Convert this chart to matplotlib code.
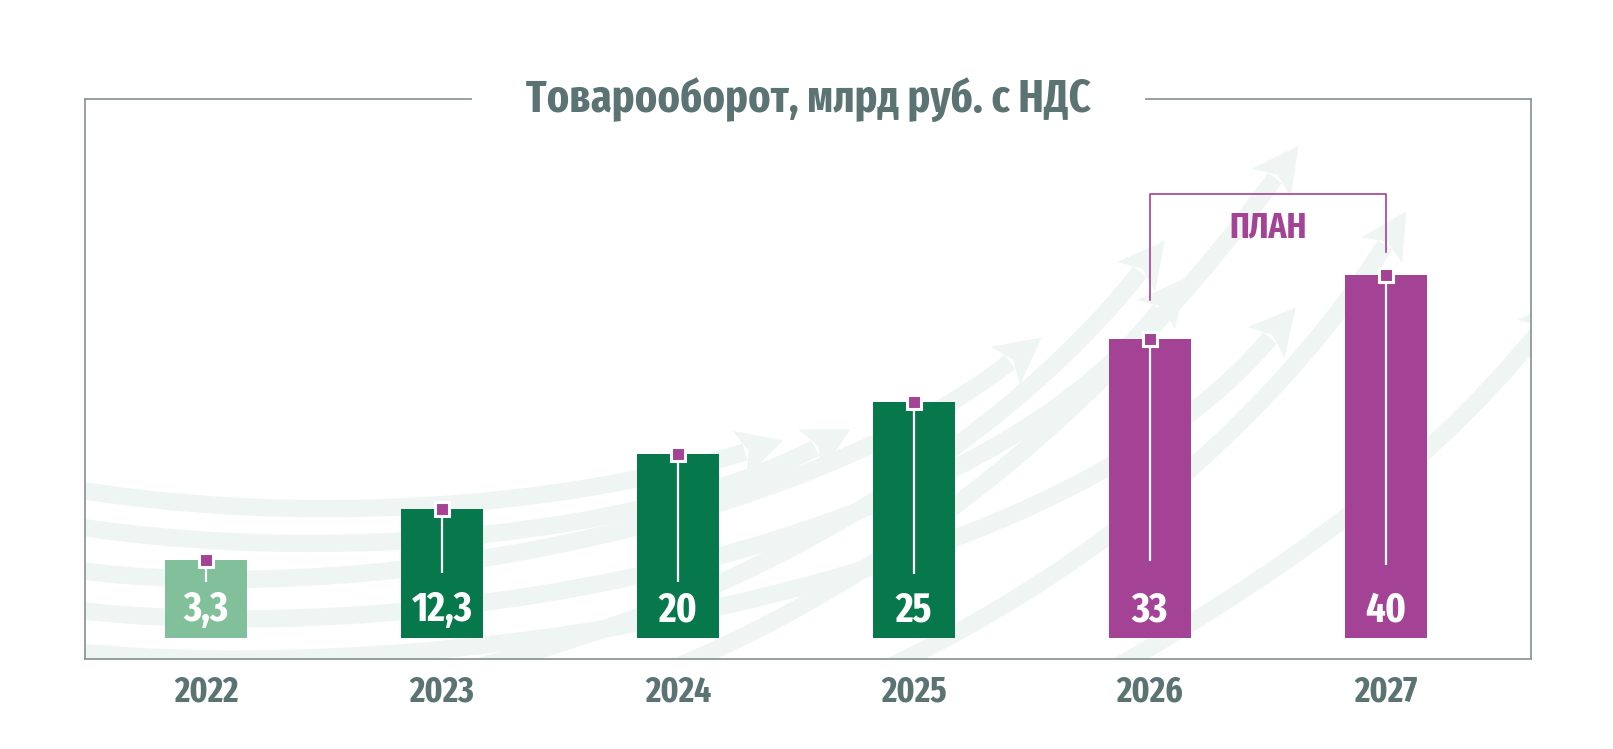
import matplotlib
matplotlib.use('Agg')
import matplotlib.pyplot as plt
from matplotlib.path import Path
from matplotlib.patches import PathPatch, Polygon, Rectangle
import numpy as np

# --- data ---
years = ['2022', '2023', '2024', '2025', '2026', '2027']
value_labels = ['3,3', '12,3', '20', '25', '33', '40']
# bar heights as drawn (the chart is not to scale)
bar_heights = [77.5, 128.5, 183.5, 235.5, 298.5, 362.5]
stem_ends = [77, 86, 77, 85, 98, 94]
bar_colors = ['#82c09c', '#07784b', '#07784b', '#07784b', '#a44295', '#a44295']
plan_years = ['2026', '2027']

title = 'Товарооборот, млрд руб. с НДС'
plan_label = 'ПЛАН'

GREY = '#5c7373'
PURPLE = '#a44295'
FRAME = '#8c9898'
BAND = '#eef5f2'

plt.rcParams['font.family'] = ['Fira Sans Extra Condensed', 'PT Sans Narrow', 'DejaVu Sans']

W, H = 1613, 749
fig = plt.figure(figsize=(W / 100, H / 100), dpi=100)

# frame in pixels
fl, ft, fr, fb = 84.5, 99, 1531, 659

# --- background decoration (faint arrows) ---
bg = fig.add_axes([0, 0, 1, 1], zorder=0)
bg.set_xlim(0, W)
bg.set_ylim(H, 0)
bg.axis('off')
clip = Rectangle((fl, ft), fr - fl, fb - ft, transform=bg.transData)

bands = [
    [(60, 487), (300, 528), (560, 508), (745, 452)],
    [(60, 524), (330, 568), (650, 535), (815, 448)],
    [(60, 568), (360, 612), (800, 525), (1010, 362)],
    [(60, 608), (390, 652), (960, 565), (1160, 310)],
    [(60, 650), (420, 690), (1050, 600), (1270, 338)],
    [(300, 700), (700, 650), (1000, 450), (1140, 272)],
    [(520, 720), (900, 620), (1150, 350), (1275, 178)],
    [(760, 720), (1100, 600), (1300, 380), (1385, 245)],
    [(1000, 730), (1250, 600), (1420, 480), (1540, 330)],
]
for p0, p1, p2, p3 in bands:
    path = Path([p0, p1, p2, p3], [Path.MOVETO, Path.CURVE4, Path.CURVE4, Path.CURVE4])
    patch = PathPatch(path, facecolor='none', edgecolor=BAND, lw=12.5, capstyle='butt')
    bg.add_patch(patch)
    patch.set_clip_path(clip)
    d = np.array(p3, float) - np.array(p2, float)
    d /= np.hypot(*d)
    n = np.array([-d[1], d[0]])
    base = np.array(p3, float)
    tri = Polygon([base + d * 40, base + n * 24 - d * 6, base + d * 4,
                   base - n * 24 - d * 6],
                  closed=True, facecolor=BAND, edgecolor='none')
    bg.add_patch(tri)
    tri.set_clip_path(clip)

# --- main chart ---
ax = fig.add_axes([fl / W, 1 - fb / H, (fr - fl) / W, (fb - ft) / H], zorder=1)
ax.set_facecolor('none')
step = 236.0
x = np.arange(len(years))
ax.set_xlim((fl - 206) / step, (fr - 206) / step)
ax.set_ylim(0, fb - ft)

base_y = 21.5
ax.bar(x, bar_heights, width=82 / step, bottom=base_y, color=bar_colors, zorder=2)

tops = [base_y + h for h in bar_heights]
ax.vlines(x, stem_ends, tops, color='white', lw=1.6, zorder=3)
ax.plot(x, tops, ls='none', marker='s', ms=9.4, mfc=PURPLE, mec='white', mew=2.2,
        zorder=4, clip_on=False)

for xi, lab in zip(x, value_labels):
    ax.text(xi, 49, lab, ha='center', va='center', color='white',
            fontsize=30, fontweight='bold', zorder=5)

# plan bracket
i0, i1 = years.index(plan_years[0]), years.index(plan_years[1])
ax.plot([i0, i0, i1, i1], [fb - 300, fb - 193.5, fb - 193.5, fb - 252],
        color=PURPLE, lw=1.2, zorder=3)
ax.text((i0 + i1) / 2, fb - 228, plan_label, ha='center', va='center',
        color=PURPLE, fontsize=26, fontweight='bold')

# axes styling
ax.set_xticks(x)
ax.set_xticklabels(years, fontsize=26, fontweight='bold', color=GREY)
ax.tick_params(axis='x', length=0, pad=11)
ax.set_yticks([])
for side in ['left', 'right', 'bottom']:
    ax.spines[side].set_color(FRAME)
    ax.spines[side].set_linewidth(1.3)
ax.spines['top'].set_visible(False)
gap_l, gap_r = (471 - fl) / (fr - fl), (1146 - fl) / (fr - fl)
for a, b in [(0, gap_l), (gap_r, 1)]:
    ax.plot([a, b], [1, 1], transform=ax.transAxes, color=FRAME, lw=1.3, clip_on=False)

fig.text(808 / W, 1 - 100 / H, title, ha='center', va='center', color=GREY,
         fontsize=33, fontweight='bold')

fig.savefig('out.png', dpi=100, facecolor='white')
